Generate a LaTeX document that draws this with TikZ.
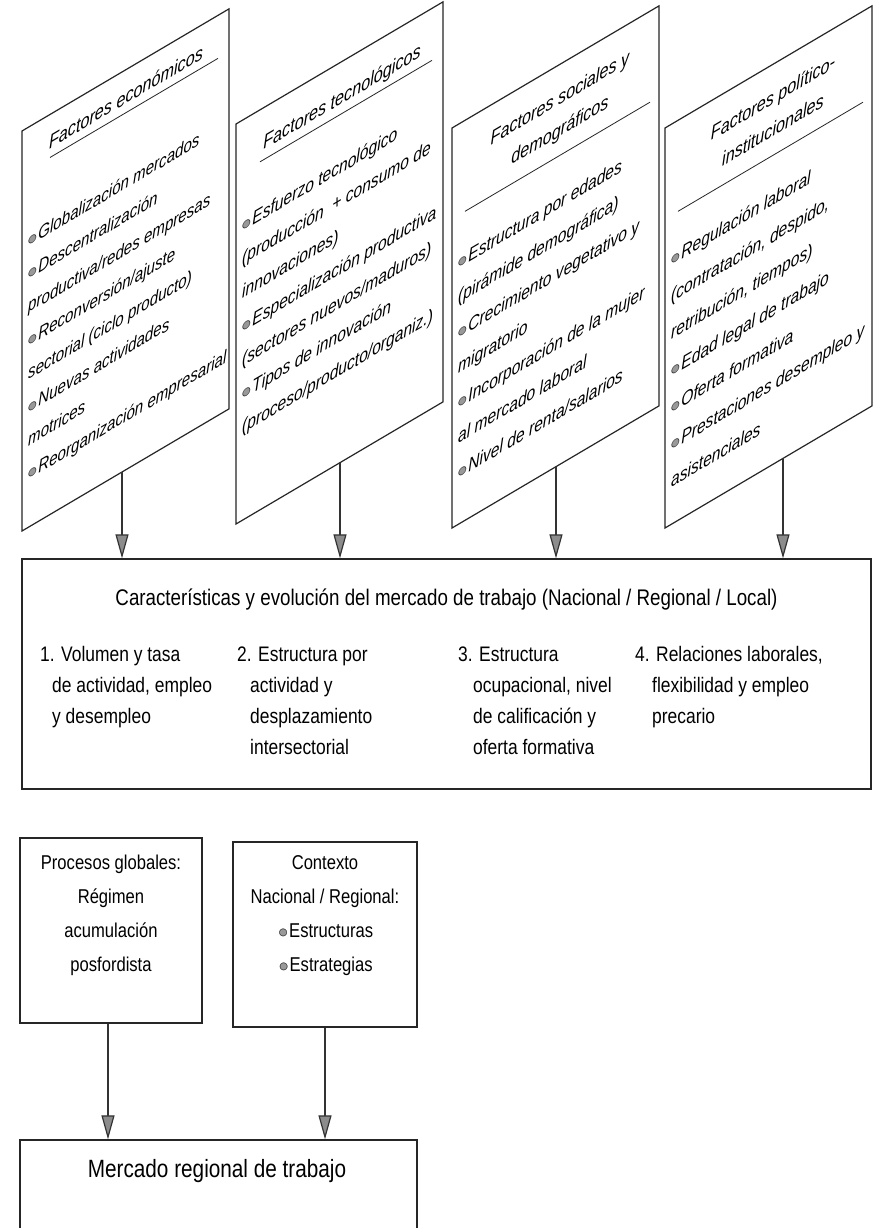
\documentclass[tikz,border=0pt]{standalone}
\usepackage{fontspec}
\setmainfont{Liberation Sans}[FakeStretch=0.83]
\newfontfamily\dejavu{DejaVu Sans}
\usetikzlibrary{arrows.meta}
\newcommand\bul{\raisebox{0.1em}{\dejavu\fontsize{10}{10}\selectfont\rlap{\textcolor{black!40}{●}}\textcolor{black!85}{○}}\hspace{0.08em}}
\tikzset{
  edge/.style={draw=black!85, line width=1.2pt},
  divider/.style={draw=black!85, line width=0.8pt},
  ptext/.style={anchor=base west, transform shape, inner sep=0pt, font=\fontsize{18.8}{18.8}\selectfont\itshape},
  ptextsmall/.style={ptext, font=\fontsize{18.2}{18.2}\selectfont\itshape},
  ptitle/.style={anchor=base, transform shape, inner sep=0pt, font=\fontsize{19.5}{19.5}\selectfont\itshape},
  mtext/.style={anchor=base west, inner sep=0pt, font=\fontsize{21}{21}\selectfont},
  mtitle/.style={anchor=base, inner sep=0pt, font=\fontsize{22.6}{22.6}\selectfont},
  ctext/.style={anchor=base, inner sep=0pt, font=\fontsize{20}{20}\selectfont},
  box/.style={draw=black!85, line width=1.3pt, inner sep=0pt},
  arr/.style={draw=black!80, line width=1.2pt, -{Triangle[length=24pt,width=13pt,fill=black!45]}},
}
\begin{document}
\begin{tikzpicture}[x=1pt,y=-1pt]
\useasboundingbox (0,0) rectangle (878,1228);
\clip (0,0) rectangle (878,1228);
\fill[white] (0,0) rectangle (878,1228);

% ---------- Box 1 ----------
\begin{scope}[shift={(22,131)}, yslant=0.59]
  \draw[edge] (0,0) rectangle (207,400);
  \draw[divider] (28,43) -- (196,43);
  \node[ptitle] (t1) at (104,34) {Factores económicos};
  \foreach \s [count=\i from 0] in {
    {\bul Globalización mercados},
    {\bul Descentralización},
    {productiva/redes empresas},
    {\bul Reconversión/ajuste},
    {sectorial (ciclo producto)},
    {\bul Nuevas actividades},
    {motrices},
    {\bul Reorganización empresarial}}
    \node[ptextsmall] (e\i) at (6,{119+33.3*\i}) {\s};
  \coordinate (a1) at (100,400);
\end{scope}

% ---------- Box 2 ----------
\begin{scope}[shift={(236,124)}, yslant=0.59]
  \draw[edge] (0,0) rectangle (207,400);
  \draw[divider] (24,52) -- (196,52);
  \node[ptitle] (t2) at (106,42) {Factores tecnológicos};
  \foreach \s [count=\i from 0] in {
    {\bul Esfuerzo tecnológico},
    {(producción\ \ + consumo de},
    {innovaciones)},
    {\bul Especialización productiva},
    {(sectores nuevos/maduros)},
    {\bul Tipos de innovación},
    {(proceso/producto/organiz.)}}
    \node[ptext] (g\i) at (6,{111+33.7*\i}) {\s};
  \coordinate (a2) at (104,400);
\end{scope}

% ---------- Box 3 ----------
\begin{scope}[shift={(452,128)}, yslant=0.59]
  \draw[edge] (0,0) rectangle (207,400);
  \draw[divider] (13,91) -- (198,91);
  \node[ptitle] (t3a) at (108,40) {Factores sociales y};
  \node[ptitle] (t3b) at (108,72) {demográficos};
  \foreach \s [count=\i from 0] in {
    {\bul Estructura por edades},
    {(pirámide demográfica)},
    {\bul Crecimiento vegetativo y},
    {migratorio},
    {\bul Incorporación de la mujer},
    {al mercado laboral},
    {\bul Nivel de renta/salarios}}
    \node[ptext] (s\i) at (6,{144+35*\i}) {\s};
  \coordinate (a3) at (104,400);
\end{scope}

% ---------- Box 4 ----------
\begin{scope}[shift={(665,128)}, yslant=0.59]
  \draw[edge] (0,0) rectangle (207,400);
  \draw[divider] (13,91) -- (198,91);
  \node[ptitle] (t4a) at (108,40) {Factores político-};
  \node[ptitle] (t4b) at (108,72) {institucionales};
  \foreach \s [count=\i from 0] in {
    {\bul Regulación laboral},
    {(contratación, despido,},
    {retribución, tiempos)},
    {\bul Edad legal de trabajo},
    {\bul Oferta formativa},
    {\bul Prestaciones desempleo y},
    {asistenciales}}
    \node[ptext] (p\i) at (6,{141+37*\i}) {\s};
  \coordinate (a4) at (118,400);
\end{scope}

% ---------- Main box ----------
\node[box, minimum width=849pt, minimum height=230pt] (main) at (446.5,674) {};
\node[mtitle] (mt) at (446.5,605) {Características y evolución del mercado de trabajo (Nacional / Regional / Local)};
\node[mtext] (m1a) at (40,661) {1. Volumen y tasa};
\node[mtext] (m1b) at (52,692) {de actividad, empleo};
\node[mtext] (m1c) at (52,723) {y desempleo};
\node[mtext] (m2a) at (237,661) {2. Estructura por};
\node[mtext] (m2b) at (250,692) {actividad y};
\node[mtext] (m2c) at (250,723) {desplazamiento};
\node[mtext] (m2d) at (250,754) {intersectorial};
\node[mtext] (m3a) at (458,661) {3. Estructura};
\node[mtext] (m3b) at (473,692) {ocupacional, nivel};
\node[mtext] (m3c) at (473,723) {de calificación y};
\node[mtext] (m3d) at (473,754) {oferta formativa};
\node[mtext] (m4a) at (635,661) {4. Relaciones laborales,};
\node[mtext] (m4b) at (652,692) {flexibilidad y empleo};
\node[mtext] (m4c) at (652,723) {precario};

\draw[arr] (a1) -- (a1 |- main.north);
\draw[arr] (a2) -- (a2 |- main.north);
\draw[arr] (a3) -- (a3 |- main.north);
\draw[arr] (a4) -- (a4 |- main.north);

% ---------- Lower boxes ----------
\node[box, minimum width=182pt, minimum height=185pt] (proc) at (111,930.5) {};
\node[ctext] (pr1) at (111,869) {Procesos globales:};
\node[ctext] (pr2) at (111,903) {Régimen};
\node[ctext] (pr3) at (111,937) {acumulación};
\node[ctext] (pr4) at (111,971) {posfordista};

\node[box, minimum width=184pt, minimum height=185pt] (ctx) at (325,934.5) {};
\node[ctext] (cx1) at (325,869) {Contexto};
\node[ctext] (cx2) at (325,903) {Nacional / Regional:};
\node[ctext] (cx3) at (326,937) {\bul Estructuras};
\node[ctext] (cx4) at (326,971) {\bul Estrategias};

\node[box, minimum width=397pt, minimum height=110pt] (merc) at (218.5,1195) {};
\node[ctext, font=\fontsize{25}{25}\selectfont] (mr) at (217,1177) {Mercado regional de trabajo};

\draw[arr] ([xshift=-3pt]proc.south) -- ([xshift=-3pt]proc.south |- merc.north);
\draw[arr] (ctx.south) -- (ctx.south |- merc.north);
\end{tikzpicture}
\end{document}
